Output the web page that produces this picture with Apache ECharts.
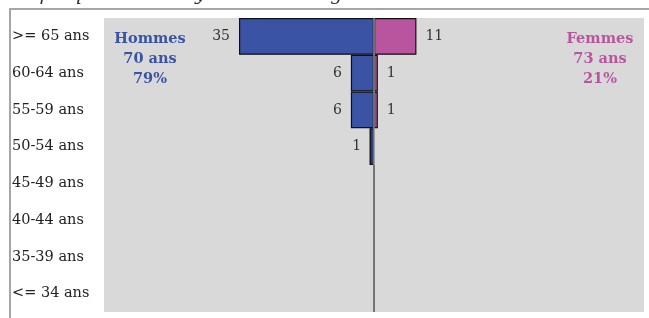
<!DOCTYPE html>
<html>
<head>
<meta charset="utf-8">
<script src="https://cdn.jsdelivr.net/npm/echarts@6/dist/echarts.min.js"></script>
<style>
html,body{margin:0;padding:0;background:#fff;}
#chart{width:649px;height:318px;}
</style>
</head>
<body>
<div id="chart"></div>
<script>
var ages = ['>= 65 ans', '60-64 ans', '55-59 ans', '50-54 ans', '45-49 ans', '40-44 ans', '35-39 ans', '<= 34 ans'];
var hommes = [35, 6, 6, 1, 0, 0, 0, 0];
var femmes = [11, 1, 1, 0, 0, 0, 0, 0];
var hommesInfo = ['Hommes', '70 ans', '79%'];
var femmesInfo = ['Femmes', '73 ans', '21%'];

var chart = echarts.init(document.getElementById('chart'));
var serif = 'DejaVu Serif';

var option = {
	animation: false,
	textStyle: {fontFamily: serif},
	grid: {
		left: 104, right: 5, top: 18, bottom: 6,
		show: true,
		backgroundColor: '#d9d9d9',
		borderWidth: 0
	},
	xAxis: {
		type: 'value',
		min: -70, max: 70,
		show: false
	},
	yAxis: {
		type: 'category',
		data: ages,
		inverse: true,
		axisLine: {show: false},
		axisTick: {show: false},
		splitLine: {show: false},
		axisLabel: {
			align: 'left',
			margin: 92,
			color: '#222',
			fontFamily: serif,
			fontSize: 14.5
		}
	},
	graphic: [
		{
			type: 'polyline',
			shape: {points: [[10, 318], [10, 9], [649, 9]]},
			style: {stroke: '#a6a6a6', lineWidth: 2, fill: null}
		},
		{
			type: 'text', left: 4, top: -14,
			style: {text: 'Graphique n° 01 : Pyramide des âges', font: 'italic 19px ' + serif, fill: '#333'}
		},
		{
			type: 'text', x: 150, y: 29,
			style: {
				text: hommesInfo.join('\n'), align: 'center', lineHeight: 20,
				font: 'bold 14.5px ' + serif, fill: '#3a53a4'
			}
		},
		{
			type: 'text', x: 600, y: 29,
			style: {
				text: femmesInfo.join('\n'), align: 'center', lineHeight: 20,
				font: 'bold 14.5px ' + serif, fill: '#b9559f'
			}
		}
	],
	series: [
		{
			name: 'Hommes',
			type: 'bar',
			stack: 'p',
			barWidth: '100%',
			data: hommes.map(function (v) { return -v; }),
			itemStyle: {color: '#3a53a4', borderColor: '#111', borderWidth: 1.2},
			label: {
				show: true, position: 'left', distance: 9,
				color: '#333', fontSize: 14, fontFamily: serif,
				formatter: function (p) { return p.value === 0 ? '' : Math.abs(p.value); }
			}
		},
		{
			name: 'Femmes',
			type: 'bar',
			stack: 'p',
			barWidth: '100%',
			data: femmes,
			itemStyle: {color: '#b9559f', borderColor: '#111', borderWidth: 1.2},
			label: {
				show: true, position: 'right', distance: 9,
				color: '#333', fontSize: 14, fontFamily: serif,
				formatter: function (p) { return p.value === 0 ? '' : p.value; }
			},
			markLine: {
				silent: true,
				symbol: 'none',
				label: {show: false},
				lineStyle: {color: '#8c8c8c', width: 1.5, type: 'solid'},
				data: [{xAxis: 0}]
			}
		}
	]
};

chart.setOption(option);
window.onresize = function () { chart.resize(); };
</script>
</body>
</html>
